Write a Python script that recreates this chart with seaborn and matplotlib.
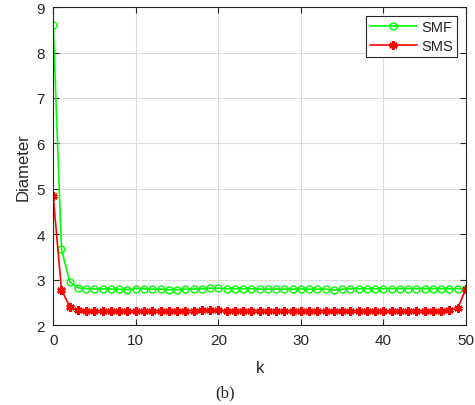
import seaborn as sns
import matplotlib.pyplot as plt
import numpy as np

# k index
k = list(range(51))

# Diameter values
smf = [8.60, 3.67, 2.95, 2.82, 2.80, 2.79, 2.80, 2.79, 2.79, 2.78,
       2.80, 2.80, 2.79, 2.79, 2.78, 2.78, 2.79, 2.79, 2.80, 2.81,
       2.81, 2.80, 2.80, 2.80, 2.80, 2.79, 2.79, 2.79, 2.79, 2.79,
       2.80, 2.79, 2.79, 2.79, 2.77, 2.79, 2.80, 2.80, 2.80, 2.80,
       2.80, 2.80, 2.80, 2.80, 2.80, 2.80, 2.80, 2.80, 2.80, 2.80,
       2.80]
sms = [4.83, 2.78, 2.40, 2.33, 2.31, 2.31, 2.31, 2.31, 2.31, 2.31,
       2.31, 2.31, 2.31, 2.31, 2.30, 2.30, 2.31, 2.31, 2.32, 2.32,
       2.32, 2.31, 2.31, 2.31, 2.31, 2.31, 2.31, 2.31, 2.31, 2.31,
       2.31, 2.31, 2.31, 2.31, 2.31, 2.31, 2.31, 2.31, 2.31, 2.31,
       2.31, 2.31, 2.31, 2.31, 2.31, 2.31, 2.31, 2.31, 2.32, 2.37,
       2.80]

sns.set_style('ticks')
plt.rcParams['font.family'] = ['Liberation Sans', 'DejaVu Sans']

fig = plt.figure(figsize=(4.75, 4.06), dpi=100)
ax = fig.add_axes([0.112, 0.197, 0.869, 0.783])

sns.lineplot(x=k, y=smf, ax=ax, color='#00ff00', marker='o', markersize=5,
             markerfacecolor='none', markeredgecolor='#00ff00', markeredgewidth=1.0,
             linewidth=1.2, label='SMF')
sns.lineplot(x=k, y=sms, ax=ax, color='#ff0000', marker=(6, 2, 0), markersize=6,
             markeredgecolor='#ff0000', markeredgewidth=1.8,
             linewidth=1.2, label='SMS')

ax.set_xlim(0, 50)
ax.set_ylim(2, 9)
ax.set_xticks([0, 10, 20, 30, 40, 50])
ax.set_yticks(range(2, 10))
ax.grid(True, color='#dcdcdc', linewidth=0.8)
ax.set_axisbelow(True)
for s in ax.spines.values():
    s.set_visible(True)
    s.set_color('#262626')
    s.set_linewidth(0.8)
ax.tick_params(direction='in', top=True, right=True, labelsize=11,
               colors='#262626', length=4, width=0.8, pad=6)
ax.set_xlabel('k', fontsize=12, color='#262626', labelpad=9)
ax.set_ylabel('Diameter', fontsize=12, color='#262626', labelpad=4)

leg = ax.legend(loc='upper right', fontsize=10.5, frameon=True, fancybox=False,
                borderaxespad=0.6, handlelength=3.2, handletextpad=0.3,
                borderpad=0.3, labelspacing=0.3)
leg.get_frame().set_edgecolor('#262626')
leg.get_frame().set_linewidth(0.8)
leg.get_frame().set_alpha(1)

fig.text(0.473, 0.032, '(b)', fontsize=12, family='Liberation Serif',
         ha='center', va='center')

plt.savefig('out.png', dpi=100)
